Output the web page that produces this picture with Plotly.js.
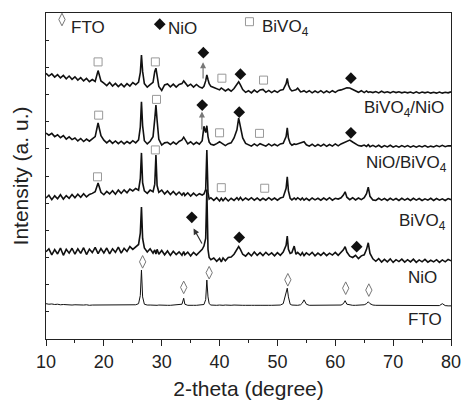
<!DOCTYPE html>
<html><head><meta charset="utf-8">
<script src="https://cdn.plot.ly/plotly-3.0.1.min.js"></script>
<style>html,body{margin:0;padding:0;background:#fff}#chart{width:462px;height:404px}</style>
</head><body><div id="chart"></div>
<script>
// 2-theta grid (degree)
const twoTheta = [
10,10.5,11,11.5,12,12.5,13,13.5,14,14.5,
15,15.5,16,16.5,17,17.5,18,18.5,19,19.5,
20,20.5,21,21.5,22,22.5,23,23.5,24,24.5,
25,25.5,26,26.3,26.5,26.7,27,27.5,28,28.5,
28.8,29,29.2,29.5,30,30.5,31,31.5,32,32.5,
33,33.5,33.8,34,34.5,35,35.5,36,36.5,37,
37.3,37.6,37.8,38,38.2,38.5,39,39.5,40,40.3,
40.6,41,41.5,42,42.5,43,43.3,43.6,44,44.5,
45,45.5,46,46.5,47,47.5,48,48.5,49,49.5,
50,50.5,51,51.5,51.7,51.9,52.2,52.5,52.9,53.2,
53.5,54,54.3,54.6,55,55.5,56,56.5,57,57.5,
58,58.5,59,59.5,60,60.5,61,61.4,61.7,62,
62.5,63,63.5,64,64.5,65,65.4,65.7,66,66.5,
67,67.5,68,68.5,69,69.5,70,70.5,71,71.5,
72,72.5,73,73.5,74,74.5,75,75.5,76,76.5,
77,77.5,78,78.5,79,79.5,80];

// Intensities (a.u., stacked offsets included)
const bivo4NiO = [
9.78,9.68,9.76,9.64,9.73,9.61,9.70,9.58,9.68,9.56,
9.65,9.53,9.62,9.50,9.59,9.47,9.55,9.48,9.88,9.50,
9.42,9.33,9.44,9.31,9.41,9.29,9.39,9.28,9.40,9.31,
9.44,9.36,9.46,9.80,10.45,9.85,9.40,9.27,9.36,9.45,
9.85,9.97,9.70,9.30,9.15,9.35,9.39,9.28,9.38,9.27,
9.37,9.40,9.50,9.45,9.31,9.38,9.27,9.37,9.28,9.24,
9.30,9.50,9.72,9.55,9.40,9.30,9.25,9.20,9.17,9.24,
9.20,9.13,9.20,9.12,9.22,9.35,9.47,9.35,9.18,9.08,
9.14,9.06,9.16,9.08,9.17,9.19,9.08,9.15,9.07,9.14,
9.08,9.16,9.18,9.40,9.59,9.35,9.20,9.13,9.14,9.17,
9.23,9.10,9.11,9.14,9.08,9.14,9.06,9.13,9.07,9.14,
9.06,9.13,9.07,9.14,9.08,9.15,9.17,9.20,9.22,9.25,
9.24,9.18,9.14,9.08,9.14,9.07,9.13,9.08,9.10,9.07,
9.11,9.06,9.12,9.07,9.10,9.06,9.11,9.07,9.10,9.06,
9.09,9.06,9.09,9.05,9.10,9.05,9.09,9.06,9.09,9.05,
9.08,9.05,9.09,9.05,9.08,9.06,9.10];

const nioBiVO4 = [
7.58,7.50,7.57,7.45,7.52,7.41,7.49,7.36,7.44,7.34,
7.40,7.29,7.38,7.27,7.36,7.28,7.37,7.45,7.95,7.48,
7.32,7.22,7.31,7.20,7.29,7.19,7.28,7.18,7.27,7.20,
7.30,7.22,7.33,7.80,8.73,7.85,7.30,7.18,7.28,7.45,
8.10,8.61,8.05,7.35,7.14,7.22,7.24,7.16,7.25,7.17,
7.27,7.33,7.43,7.35,7.18,7.26,7.16,7.24,7.17,7.30,
7.83,7.60,7.85,7.45,7.25,7.17,7.14,7.19,7.26,7.22,
7.18,7.12,7.19,7.22,7.40,7.70,8.13,7.75,7.40,7.20,
7.15,7.10,7.18,7.11,7.19,7.13,7.10,7.18,7.11,7.17,
7.11,7.18,7.20,7.45,7.77,7.40,7.20,7.13,7.18,7.16,
7.18,7.20,7.24,7.26,7.15,7.10,7.17,7.09,7.16,7.10,
7.17,7.09,7.16,7.10,7.18,7.11,7.18,7.22,7.26,7.30,
7.32,7.25,7.18,7.12,7.10,7.14,7.09,7.15,7.08,7.13,
7.07,7.13,7.06,7.12,7.07,7.13,7.06,7.11,7.06,7.12,
7.07,7.12,7.06,7.11,7.06,7.11,7.07,7.12,7.06,7.10,
7.07,7.12,7.08,7.13,7.08,7.11,7.11];

const bivo4 = [
5.19,5.29,5.13,5.27,5.16,5.31,5.15,5.28,5.18,5.32,
5.20,5.33,5.22,5.35,5.23,5.32,5.36,5.42,5.74,5.40,
5.31,5.43,5.34,5.46,5.33,5.48,5.36,5.49,5.38,5.52,
5.45,5.54,5.48,5.90,6.85,5.75,5.45,5.36,5.48,5.42,
5.70,6.77,5.65,5.40,5.48,5.34,5.45,5.32,5.43,5.31,
5.41,5.29,5.39,5.28,5.38,5.26,5.37,5.27,5.35,5.30,
5.34,5.50,6.96,5.40,5.15,5.20,5.10,5.20,5.08,5.18,
5.09,5.19,5.08,5.18,5.10,5.20,5.12,5.21,5.10,5.19,
5.12,5.20,5.11,5.19,5.10,5.18,5.11,5.20,5.12,5.19,
5.11,5.19,5.22,5.55,5.97,5.45,5.18,5.12,5.19,5.13,
5.20,5.12,5.19,5.11,5.18,5.10,5.19,5.12,5.18,5.11,
5.19,5.12,5.20,5.11,5.18,5.15,5.20,5.30,5.42,5.22,
5.13,5.20,5.12,5.19,5.13,5.20,5.35,5.59,5.25,5.12,
5.10,5.18,5.11,5.17,5.10,5.18,5.11,5.17,5.10,5.18,
5.11,5.17,5.10,5.18,5.11,5.17,5.10,5.16,5.11,5.18,
5.10,5.17,5.11,5.16,5.10,5.17,5.13];

const nio = [
3.21,3.32,3.10,3.29,3.13,3.35,3.08,3.30,3.16,3.34,
3.12,3.32,3.15,3.36,3.11,3.31,3.18,3.37,3.14,3.33,
3.17,3.35,3.13,3.32,3.19,3.38,3.16,3.34,3.22,3.40,
3.30,3.40,3.48,3.90,4.86,3.70,3.35,3.20,3.32,3.16,
3.28,3.13,3.30,3.12,3.26,3.10,3.24,3.08,3.23,3.11,
3.21,3.08,3.22,3.10,3.20,3.06,3.19,3.09,3.20,3.30,
3.42,3.70,5.50,3.30,3.00,2.92,2.98,2.86,2.97,2.84,
2.98,2.88,3.00,3.02,3.12,3.28,3.40,3.30,3.12,3.05,
3.17,3.06,3.20,3.08,3.18,3.07,3.19,3.09,3.17,3.06,
3.18,3.08,3.20,3.45,3.79,3.30,3.15,3.18,3.42,3.12,
3.19,3.08,3.18,3.07,3.17,3.09,3.19,3.06,3.16,3.08,
3.18,3.07,3.16,3.09,3.19,3.08,3.18,3.28,3.40,3.20,
3.05,3.00,3.08,2.96,3.06,3.10,3.30,3.54,3.15,2.95,
2.86,2.96,2.83,2.93,2.84,2.95,2.82,2.92,2.85,2.94,
2.83,2.92,2.84,2.94,2.82,2.91,2.84,2.93,2.83,2.90,
2.84,2.92,2.82,2.91,2.84,2.93,2.88];

const fto = [
1.30,1.28,1.29,1.27,1.28,1.26,1.27,1.26,1.27,1.25,
1.26,1.25,1.26,1.25,1.26,1.24,1.25,1.25,1.26,1.25,
1.25,1.24,1.25,1.24,1.25,1.24,1.25,1.24,1.25,1.25,
1.25,1.26,1.30,1.60,2.54,1.55,1.28,1.25,1.25,1.24,
1.24,1.25,1.24,1.25,1.24,1.25,1.24,1.24,1.25,1.24,
1.25,1.28,1.50,1.28,1.24,1.25,1.24,1.24,1.25,1.25,
1.27,1.45,2.17,1.55,1.30,1.25,1.24,1.24,1.25,1.24,
1.24,1.25,1.24,1.24,1.25,1.24,1.24,1.25,1.24,1.24,
1.25,1.24,1.24,1.25,1.24,1.24,1.25,1.24,1.24,1.25,
1.24,1.25,1.30,1.65,1.87,1.55,1.28,1.25,1.24,1.24,
1.24,1.26,1.32,1.44,1.28,1.24,1.24,1.25,1.24,1.24,
1.24,1.25,1.24,1.24,1.25,1.24,1.25,1.30,1.41,1.28,
1.25,1.24,1.24,1.25,1.24,1.26,1.30,1.37,1.30,1.25,
1.24,1.24,1.23,1.24,1.23,1.24,1.23,1.23,1.24,1.23,
1.23,1.23,1.24,1.23,1.23,1.22,1.23,1.23,1.22,1.23,
1.22,1.23,1.23,1.30,1.23,1.22,1.22];

// Phase marks
const bivo4MarkX = [19.0, 28.9, 40.4, 47.6, 19.1, 29.1, 40.0, 46.9, 18.9, 28.9, 40.3, 47.8, 45.17];
const bivo4MarkY = [10.2, 10.2, 9.6, 9.53, 8.24, 8.82, 7.59, 7.57, 5.97, 6.96, 5.57, 5.55, 11.68];
const nioMarkX = [37.2, 43.6, 62.7, 37.0, 43.4, 62.7, 35.2, 43.4, 63.7, 29.66];
const nioMarkY = [10.54, 9.75, 9.6, 8.61, 8.35, 7.59, 4.48, 3.74, 3.4, 11.59];
const ftoMarkX = [26.7, 33.8, 38.2, 51.8, 61.8, 65.8, 12.76];
const ftoMarkY = [2.84, 1.9, 2.44, 2.18, 1.87, 1.8, 11.76];

// Curve labels
const curveNames = ['BiVO<sub>4</sub>/NiO', 'NiO/BiVO<sub>4</sub>', 'BiVO<sub>4</sub>', 'NiO', 'FTO'];
const curveLabelX = [79.2, 79.7, 79.4, 78.0, 78.8];
const curveLabelY = [8.46, 6.43, 4.31, 2.27, 0.70];

// Legend texts
const legendText = ['FTO', 'NiO', 'BiVO<sub>4</sub>'];
const legendTextX = [14.0, 30.7, 47.0];
const legendTextY = [11.45, 11.43, 11.45];

// Arrows: head (x,y), tail (x,y)
const arrowHeadX = [37.15, 36.95, 35.5];
const arrowHeadY = [10.19, 8.37, 4.07];
const arrowTailX = [37.15, 36.95, 37.1];
const arrowTailY = [9.53, 7.66, 3.46];

const FONT = '"Liberation Sans", Arial, Helvetica, sans-serif';
const lineTrace = (y, w) => ({x: twoTheta, y: y, type: 'scatter', mode: 'lines',
  line: {color: '#111', width: w}, hoverinfo: 'skip', showlegend: false});

const data = [
  lineTrace(bivo4NiO, 1.6), lineTrace(nioBiVO4, 1.6), lineTrace(bivo4, 1.6),
  lineTrace(nio, 1.6), lineTrace(fto, 1.0),
  {x: bivo4MarkX, y: bivo4MarkY, type: 'scatter', mode: 'markers', showlegend: false,
   marker: {symbol: 'square-open', size: 8, color: '#999', line: {width: 1, color: '#999'}}},
  {x: nioMarkX, y: nioMarkY, type: 'scatter', mode: 'markers', showlegend: false,
   marker: {symbol: 'diamond', size: 9, color: '#111'}},
  {x: ftoMarkX, y: ftoMarkY, type: 'scatter', mode: 'markers', showlegend: false,
   marker: {symbol: 'diamond-tall-open', size: 9, color: '#777', line: {width: 1, color: '#777'}}}
];

const annotations = [];
curveNames.forEach((t, i) => annotations.push({x: curveLabelX[i], y: curveLabelY[i], xref: 'x', yref: 'y',
  text: t, showarrow: false, xanchor: 'right', yanchor: 'middle', font: {family: FONT, size: 17, color: '#222'}}));
legendText.forEach((t, i) => annotations.push({x: legendTextX[i], y: legendTextY[i], xref: 'x', yref: 'y',
  text: t, showarrow: false, xanchor: 'left', yanchor: 'middle', font: {family: FONT, size: 17, color: '#222'}}));
arrowHeadX.forEach((hx, i) => annotations.push({x: hx, y: arrowHeadY[i], ax: arrowTailX[i], ay: arrowTailY[i],
  xref: 'x', yref: 'y', axref: 'x', ayref: 'y', text: '', showarrow: true, arrowhead: 2, arrowsize: 1,
  arrowwidth: 1.2, arrowcolor: i < 2 ? '#777' : '#333'}));

const layout = {
  width: 462, height: 404,
  margin: {l: 46, r: 11, t: 13, b: 65},
  paper_bgcolor: '#fff', plot_bgcolor: '#fff',
  font: {family: FONT, color: '#222'},
  xaxis: {range: [10, 80], dtick: 10, tick0: 10, ticks: 'outside', ticklen: 6, tickwidth: 1, tickcolor: '#222',
    minor: {dtick: 5, ticks: 'outside', ticklen: 3, tickcolor: '#222'},
    showline: true, linecolor: '#222', linewidth: 1, mirror: true, showgrid: false, zeroline: false,
    tickfont: {family: FONT, size: 18, color: '#222'},
    title: {text: '2-theta (degree)', font: {family: FONT, size: 21, color: '#222'}, standoff: 10}},
  yaxis: {range: [0, 12], dtick: 1, tick0: 0, ticks: 'inside', ticklen: 3, tickcolor: '#222',
    showticklabels: false, showline: true, linecolor: '#222', linewidth: 1, mirror: true,
    showgrid: false, zeroline: false,
    title: {text: 'Intensity (a. u.)', font: {family: FONT, size: 21, color: '#222'}, standoff: 10}},
  annotations: annotations
};

Plotly.newPlot('chart', data, layout, {staticPlot: true, displayModeBar: false});
</script>
</body></html>
